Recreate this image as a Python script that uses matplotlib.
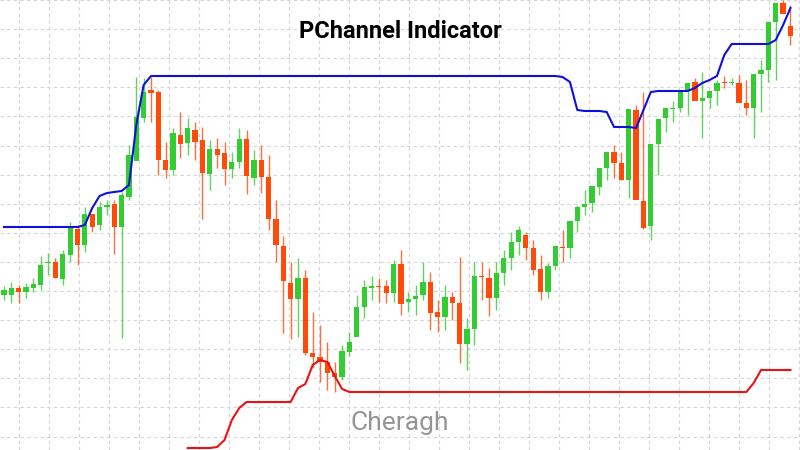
import numpy as np
import matplotlib.pyplot as plt

# candle data (price units, 0..450)
opens_px = [295, 295, 288, 292, 288, 285, 263, 262, 279, 255, 229, 245, 214, 225, 207, 204, 227, 197, 161, 118,
            90, 92, 160, 170, 135, 143, 130, 140, 174, 149, 153, 169, 162, 139, 178, 160, 177, 219, 246, 283,
            299, 278, 353, 357, 362, 373, 377, 352, 337, 307, 288, 286, 286, 293, 264, 302, 299, 295, 282, 312,
            317, 297, 303, 344, 329, 276, 278, 298, 273, 258, 242, 235, 248, 269, 292, 266, 247, 248, 221, 207,
            203, 187, 168, 152, 163, 180, 110, 201, 226, 144, 118, 109, 108, 91, 82, 101, 98, 91, 82, 83,
            83, 103, 108, 74, 70, 22, 3, 26]
closes_px = [290, 288, 292, 287, 284, 265, 262, 278, 254, 227, 245, 214, 227, 207, 205, 227, 195, 155, 117, 92,
             93, 160, 170, 133, 144, 128, 142, 173, 149, 155, 169, 162, 139, 176, 160, 177, 219, 245, 281, 299,
             278, 353, 357, 362, 373, 377, 351, 342, 307, 287, 286, 287, 293, 264, 304, 299, 296, 282, 313, 317,
             297, 303, 344, 329, 276, 277, 298, 273, 258, 242, 230, 248, 270, 292, 266, 246, 248, 221, 207, 204,
             186, 168, 152, 163, 180, 109, 200, 228, 144, 119, 108, 108, 91, 83, 101, 98, 91, 83, 83, 82,
             103, 108, 74, 70, 22, 3, 14, 36]
highs_px = [286, 282, 285, 283, 278, 256, 253, 258, 250, 222, 225, 207, 214, 201, 200, 200, 192, 145, 77, 78,
            77, 90, 142, 128, 112, 118, 122, 127, 140, 138, 142, 152, 128, 130, 150, 145, 155, 200, 236, 262,
            258, 270, 312, 325, 342, 362, 345, 332, 295, 280, 276, 278, 280, 260, 250, 292, 285, 262, 272, 300,
            285, 292, 257, 318, 262, 262, 268, 262, 250, 232, 226, 232, 240, 255, 263, 248, 230, 240, 205, 190,
            195, 178, 155, 145, 152, 160, 105, 92, 195, 133, 110, 101, 100, 82, 78, 72, 93, 80, 76, 78,
            75, 80, 95, 60, 55, 15, 0, 5]
lows_px = [300, 303, 303, 298, 292, 290, 275, 278, 285, 262, 265, 252, 232, 230, 215, 254, 338, 200, 138, 122,
           122, 175, 178, 175, 158, 155, 160, 219, 190, 168, 185, 178, 168, 194, 185, 193, 230, 262, 333, 339,
           337, 355, 368, 382, 390, 392, 380, 356, 322, 318, 300, 302, 303, 302, 315, 312, 315, 300, 330, 332,
           330, 320, 363, 370, 345, 300, 316, 310, 285, 270, 255, 260, 275, 300, 298, 270, 262, 258, 232, 215,
           212, 195, 180, 178, 180, 198, 162, 229, 240, 175, 132, 122, 112, 115, 100, 138, 108, 105, 88, 85,
           90, 115, 138, 112, 82, 80, 10, 45]
upper_px = [227] * 11 + [225, 208, 196, 193, 192, 191, 185, 125, 85] + [76] * 56 + \
           [77, 82, 110, 111, 111, 111, 112, 127, 127, 127, 128, 110, 92, 91, 91, 91, 91, 91, 88, 83, 80, 76, 55,
            44, 44, 44, 44, 44, 44, 40, 25, 8]
lower_px = [np.nan] * 25 + [448, 448, 448, 448, 447, 440, 420, 408, 402, 402, 402, 402, 402, 402, 402,
                            388, 384, 365, 360, 362, 376, 389] + [392] * 55 + [383, 370, 370, 370, 370, 370]

H = 450
o = H - np.array(opens_px, float)
c = H - np.array(closes_px, float)
hi = H - np.array(highs_px, float)
lo = H - np.array(lows_px, float)
up = H - np.array(upper_px, float)
dn = H - np.array(lower_px, float)
n = len(o)
idx = np.arange(n)

green = '#33cc33'
red = '#ff4a0a'

fig = plt.figure(figsize=(8, 4.5), dpi=100)
ax = fig.add_axes([0, 0, 1, 1])
step = 7.35
ax.set_xlim(-4 / step, 796 / step)
ax.set_ylim(0, H)
ax.axis('off')

# grid
for k in range(27):
    ax.axvline((19 + 30 * k - 4) / step, color='#d4d4d4', lw=0.8, ls=(0, (3, 3)), zorder=0)
for k in range(16):
    ax.axhline(H - 29.1 * k, color='#d4d4d4', lw=0.8, ls=(0, (3, 3)), zorder=0)

for i in idx:
    col = green if c[i] >= o[i] else red
    ax.vlines(i, lo[i], hi[i], color=col, lw=1, alpha=0.8, zorder=2)
    b0, b1 = min(o[i], c[i]), max(o[i], c[i])
    ax.bar(i, max(b1 - b0, 1.5), bottom=b0, width=0.72, color=col, zorder=3)

ax.plot(idx, up, color='#1010dd', lw=1.5, zorder=4)
ax.plot(idx, dn, color='#ee1111', lw=1.5, zorder=4)

fig.text(0.5, 0.93, 'PChannel Indicator', ha='center', va='center', fontsize=17,
         fontweight='bold', family='Roboto')
fig.text(0.5, 0.06, 'Cheragh', ha='center', va='center', fontsize=19,
         color='#8a8a8a', family='Roboto', alpha=0.9)

fig.savefig('out.png', dpi=100)
